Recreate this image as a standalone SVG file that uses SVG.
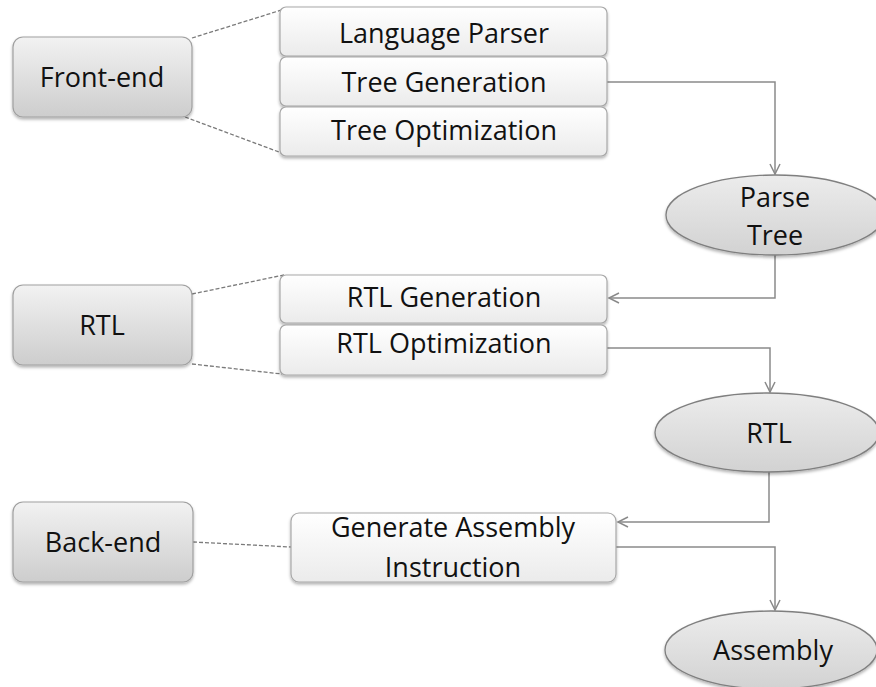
<svg xmlns="http://www.w3.org/2000/svg" width="876" height="687" viewBox="0 0 876 687">
<defs>
  <linearGradient id="gBig" x1="0" y1="0" x2="0" y2="1">
    <stop offset="0" stop-color="#f2f2f2"/>
    <stop offset="1" stop-color="#cdcdcd"/>
  </linearGradient>
  <linearGradient id="gSmall" x1="0" y1="0" x2="0" y2="1">
    <stop offset="0" stop-color="#ffffff"/>
    <stop offset="1" stop-color="#ebebeb"/>
  </linearGradient>
  <linearGradient id="gEll" x1="0" y1="0" x2="0" y2="1">
    <stop offset="0" stop-color="#ececec"/>
    <stop offset="1" stop-color="#d2d2d2"/>
  </linearGradient>
  <filter id="sh" x="-10%" y="-10%" width="120%" height="140%">
    <feDropShadow dx="0" dy="2" stdDeviation="1.5" flood-color="#000" flood-opacity="0.3"/>
  </filter>
  <marker id="arr" markerWidth="14" markerHeight="14" refX="11" refY="6" orient="auto" markerUnits="userSpaceOnUse">
    <path d="M1,1 L11,6 L1,11" fill="none" stroke="#8a8a8a" stroke-width="1.5"/>
  </marker>
</defs>
<style>
  text { font-family: "Open Sans", "Liberation Sans", sans-serif; font-size: 27px; fill: #111111; text-anchor: middle; }
  .big { fill: url(#gBig); stroke: #a0a0a0; stroke-width: 1.2; filter: url(#sh); }
  .small { fill: url(#gSmall); stroke: #a8a8a8; stroke-width: 1.2; filter: url(#sh); }
  .ell { fill: url(#gEll); stroke: #7f7f7f; stroke-width: 1.3; filter: url(#sh); }
  .dash { fill: none; stroke: #7a7a7a; stroke-width: 1.3; stroke-dasharray: 4 2; }
  .flow { fill: none; stroke: #8a8a8a; stroke-width: 1.5; marker-end: url(#arr); }
</style>

<g id="connectors">
  <line class="dash" x1="192" y1="38" x2="288" y2="8"/>
  <line class="dash" x1="185" y1="117" x2="287" y2="155"/>
  <line class="dash" x1="192" y1="294" x2="284" y2="275"/>
  <line class="dash" x1="192" y1="364" x2="282" y2="374"/>
  <line class="dash" x1="193" y1="542" x2="291" y2="547"/>
  <polyline class="flow" points="607,82 775,82 775,174"/>
  <polyline class="flow" points="775,255 775,298 609,298"/>
  <polyline class="flow" points="607,348 770,348 770,392"/>
  <polyline class="flow" points="769,472 769,522 618,522"/>
  <polyline class="flow" points="616,547 775,547 775,610"/>
</g>

<g id="front-end">
  <rect class="big" x="13" y="37" width="179" height="80" rx="10"/>
  <text x="102" y="87">Front-end</text>
</g>
<g id="language-parser">
  <rect class="small" x="280" y="7" width="327" height="49" rx="6"/>
  <text x="444" y="43">Language Parser</text>
</g>
<g id="tree-generation">
  <rect class="small" x="280" y="57" width="327" height="49" rx="6"/>
  <text x="444" y="92">Tree Generation</text>
</g>
<g id="tree-optimization">
  <rect class="small" x="280" y="107" width="327" height="49" rx="6"/>
  <text x="444" y="140">Tree Optimization</text>
</g>
<g id="parse-tree">
  <ellipse class="ell" cx="775" cy="215" rx="109" ry="40"/>
  <text x="775" y="207">Parse</text>
  <text x="775" y="245">Tree</text>
</g>

<g id="rtl-stage">
  <rect class="big" x="13" y="285" width="179" height="80" rx="10"/>
  <text x="102" y="335">RTL</text>
</g>
<g id="rtl-generation">
  <rect class="small" x="280" y="275" width="327" height="48" rx="6"/>
  <text x="444" y="307">RTL Generation</text>
</g>
<g id="rtl-optimization">
  <rect class="small" x="280" y="325" width="327" height="50" rx="6"/>
  <text x="444" y="353">RTL Optimization</text>
</g>
<g id="rtl-output">
  <ellipse class="ell" cx="767" cy="432.5" rx="112" ry="39.5"/>
  <text x="769" y="443">RTL</text>
</g>

<g id="back-end">
  <rect class="big" x="13" y="502" width="180" height="80" rx="10"/>
  <text x="103" y="552">Back-end</text>
</g>
<g id="generate-assembly">
  <rect class="small" x="291" y="513" width="325" height="69" rx="8"/>
  <text x="453" y="537">Generate Assembly</text>
  <text x="453" y="577">Instruction</text>
</g>
<g id="assembly">
  <ellipse class="ell" cx="771" cy="650" rx="106" ry="39"/>
  <text x="773" y="660">Assembly</text>
</g>
</svg>
